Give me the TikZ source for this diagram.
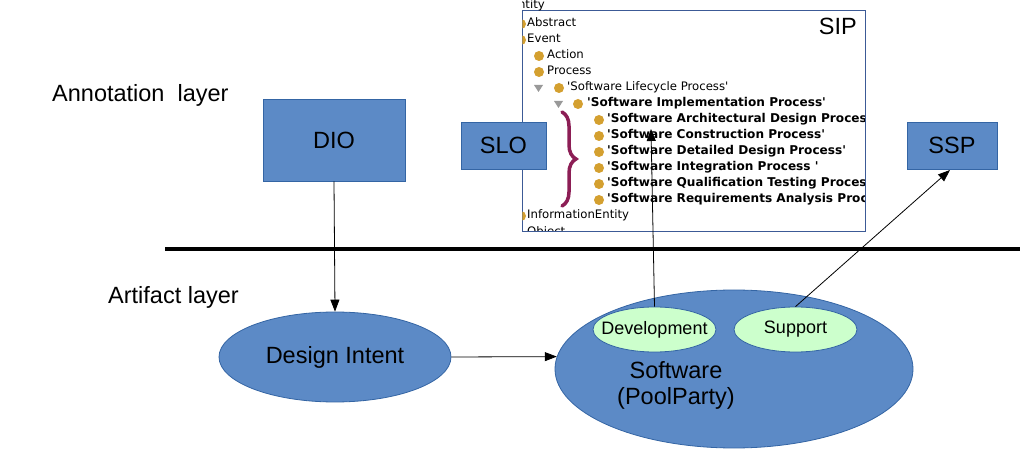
\documentclass[tikz,border=0pt]{standalone}
\usepackage{fontspec}
\setmainfont{Liberation Sans}
\newfontfamily\treefont{DejaVu Sans}
\usetikzlibrary{shapes.geometric,arrows.meta,decorations.pathreplacing}
\definecolor{boxfill}{RGB}{92,138,198}
\definecolor{boxedge}{RGB}{52,101,164}
\definecolor{lightgreen}{RGB}{204,255,204}
\definecolor{bullet}{RGB}{212,160,48}
\definecolor{bracecol}{RGB}{140,30,85}
\definecolor{sipedge}{RGB}{60,90,150}
\tikzset{
  bigtext/.style={font=\fontsize{23.5}{26}\selectfont, inner sep=0pt},
  boxnode/.style={draw=boxedge, fill=boxfill, line width=0.8pt, font=\fontsize{23.5}{26}\selectfont, inner sep=0pt},
  bigell/.style={ellipse, draw=boxedge, fill=boxfill, line width=0.8pt, inner sep=0pt, label={[font=\fontsize{23.5}{26}\selectfont, inner sep=0pt]center:#1}},
  smallell/.style={ellipse, draw=boxedge, fill=lightgreen, line width=0.8pt, inner sep=0pt, label={[font=\fontsize{18}{20}\selectfont, inner sep=0pt]center:#1}},
  conn/.style={-{Triangle[length=12pt,width=9pt]}, line width=0.8pt, black},
  treetext/.style={anchor=mid west, inner sep=0pt, font=\treefont\fontsize{11.7}{13}\selectfont},
  treebold/.style={treetext, font=\treefont\bfseries\fontsize{12.1}{13}\selectfont},
  dot/.style={fill=bullet, draw=none},
  tri/.style={fill=gray!80, draw=none}
}
\begin{document}
\begin{tikzpicture}[x=1pt,y=-1pt]
\useasboundingbox[fill=white] (0,0) rectangle (1034,470);

% layer labels
\node[bigtext, anchor=west] (annot) at (52,95) {Annotation\ \ layer};
\node[bigtext, anchor=west] (artif) at (108,297) {Artifact layer};

% separator line
\draw[line width=4pt] (165,249) -- (1020,249);

% SIP box
\node[draw=sipedge, fill=white, line width=0.8pt, minimum width=343pt, minimum height=221pt, inner sep=0pt] (sip) at (693.5,120.5) {};
\begin{scope}
\clip (522.4,0) rectangle (864.6,230.6);
\node[treetext, anchor=mid east] (t0) at (545,6) {Entity};
\fill[dot] (521,24) circle (5pt);
\node[treetext] (t1) at (527,24) {Abstract};
\fill[dot] (521,40) circle (5pt);
\node[treetext] (t2) at (527,40) {Event};
\fill[dot] (539,56) circle (5pt);
\node[treetext] (t3) at (547,56) {Action};
\fill[dot] (539,72) circle (5pt);
\node[treetext] (t4) at (547,72) {Process};
\fill[tri] (534,85) -- (543,85) -- (538.5,92) -- cycle;
\fill[dot] (559,88) circle (5pt);
\node[treetext] (t5) at (567,88) {'Software Lifecycle Process'};
\fill[tri] (554,101) -- (563,101) -- (558.5,108) -- cycle;
\fill[dot] (578,104) circle (5pt);
\node[treebold] (t6) at (587,104) {'Software Implementation Process'};
\foreach \yy/\txt in {120/{'Software Architectural Design Process'},
                      136/{'Software Construction Process'},
                      152/{'Software Detailed Design Process'},
                      168/{'Software Integration Process '},
                      184/{'Software Qualification Testing Process'},
                      200/{'Software Requirements Analysis Process'}}{
  \fill[dot] (599,\yy) circle (5pt);
  \node[treebold] at (607,\yy) {\txt};
}
\fill[dot] (521,216) circle (5pt);
\node[treetext] (t7) at (527,216) {InformationEntity};
\node[treetext] (t8) at (527,233) {Object};
\end{scope}
\node[bigtext, anchor=east] (siplabel) at (857,26) {SIP};

% brace
\draw[bracecol, line width=3.5pt, line cap=round, decorate, decoration={brace, amplitude=14pt}] (562,112) -- (562,206);

% annotation boxes
\node[boxnode, minimum width=142pt, minimum height=82pt] (dio) at (334,140) {DIO};
\node[boxnode, minimum width=85pt, minimum height=47pt] (slo) at (503.5,145.5) {SLO};
\node[boxnode, minimum width=90pt, minimum height=47pt] (ssp) at (952,145.5) {SSP};

% artifact layer
\node[bigell=Design Intent, minimum width=232pt, minimum height=90pt] (di) at (335,357) {};
\node[bigell=, minimum width=358pt, minimum height=158pt] (sw) at (734,369) {};
\node[bigtext, align=center] (swtext) at (676,385) {Software\\(PoolParty)};
\node[smallell=Development, minimum width=123pt, minimum height=45pt] (dev) at (654.5,329.5) {};
\node[smallell=Support, minimum width=123pt, minimum height=45pt] (sup) at (795.5,329.5) {};

% connectors
\coordinate (siptarget) at (651,129);
\draw[conn] (dio.south) -- (di.north);
\draw[conn] (di.east) -- (sw.176);
\draw[conn] (dev.north) -- (siptarget);
\draw[conn] (sup.north) -- (950,170);
\end{tikzpicture}
\end{document}
